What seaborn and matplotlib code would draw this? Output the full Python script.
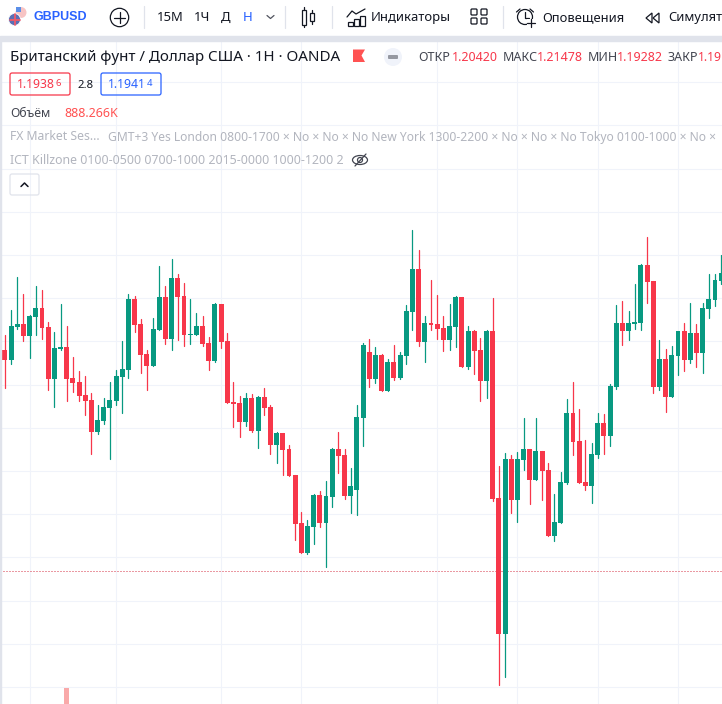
import matplotlib

matplotlib.use("Agg")
import matplotlib.pyplot as plt
import numpy as np
import pandas as pd
import seaborn as sns
from matplotlib.patches import Circle, Ellipse, FancyBboxPatch, Polygon, Rectangle

# prices in 1e-5 units
opens = [121200, 121142, 121333, 121350, 121281, 121391, 121443, 121333, 121032, 121205,
         121217, 121038, 121015, 120939, 120910, 120725, 120789, 120864, 120905, 121043,
         121084, 121495, 121350, 121177, 121107, 121315, 121506, 121263, 121616, 121512,
         121287, 121287, 121340, 121241, 121137, 121467, 121253, 120900, 120894, 120784,
         120923, 120732, 120929, 120871, 120651, 120720, 120628, 120477, 120200, 120026,
         120176, 120362, 120200, 120350, 120628, 120593, 120356, 120390, 120806, 121188,
         121032, 121171, 120962, 121130, 121038, 121165, 121420, 121668, 121246, 121356,
         121350, 121327, 121258, 121333, 121506, 121101, 121310, 121200, 121020, 121310,
         120344, 119557, 120569, 120332, 120564, 120627, 120448, 120616, 120506, 120124,
         120199, 120430, 120835, 120673, 120436, 120413, 120592, 120777, 120702, 120986,
         121356, 121310, 121350, 121356, 121692, 121599, 120986, 121148, 120928, 121165,
         121310, 121142, 121298, 121182, 121437, 121489, 121599]
closes = [121142, 121339, 121350, 121281, 121396, 121443, 121327, 121032, 121211, 121217,
          121032, 121009, 120933, 120905, 120725, 120795, 120870, 120910, 121049, 121090,
          121495, 121344, 121171, 121107, 121321, 121506, 121263, 121616, 121506, 121287,
          121292, 121340, 121235, 121137, 121467, 121247, 120894, 120888, 120784, 120923,
          120732, 120929, 120865, 120651, 120720, 120622, 120471, 120194, 120026, 120182,
          120362, 120200, 120356, 120628, 120587, 120356, 120414, 120813, 121229, 121032,
          121171, 120962, 121130, 121038, 121171, 121425, 121668, 121246, 121356, 121344,
          121321, 121258, 121339, 121506, 121101, 121310, 121194, 121020, 121310, 120338,
          119557, 120569, 120332, 120569, 120627, 120448, 120616, 120500, 120124, 120205,
          120436, 120835, 120667, 120430, 120413, 120598, 120777, 120702, 120991, 121356,
          121310, 121356, 121362, 121692, 121593, 120986, 121148, 120928, 121171, 121310,
          121142, 121298, 121182, 121443, 121495, 121605, 121645]
highs = [121286, 121431, 121622, 121524, 121402, 121570, 121547, 121362, 121304, 121466,
         121339, 121159, 121078, 121049, 120951, 120881, 120922, 121014, 121084, 121252,
         121524, 121512, 121379, 121200, 121385, 121686, 121570, 121726, 121640, 121587,
         121495, 121415, 121397, 121276, 121473, 121467, 121299, 121015, 120934, 120952,
         120946, 120934, 120981, 120882, 120726, 120720, 120651, 120477, 120263, 120217,
         120367, 120385, 120443, 120633, 120726, 120628, 120518, 120882, 121240, 121263,
         121217, 121177, 121148, 121229, 121188, 121460, 121894, 121778, 121396, 121605,
         121518, 121396, 121466, 121512, 121506, 121339, 121315, 121269, 121315, 121501,
         120529, 120604, 120592, 120610, 120806, 120627, 120806, 120616, 120546, 120367,
         120494, 120916, 121014, 120858, 120679, 120662, 120835, 120829, 121003, 121460,
         121483, 121425, 121582, 121697, 121854, 121599, 121258, 121205, 121223, 121310,
         121356, 121472, 121350, 121472, 121640, 121640, 121749]
lows = [120980, 121119, 121321, 121252, 121153, 121286, 121263, 120968, 120870, 121200,
        120905, 120957, 120905, 120824, 120598, 120714, 120771, 120569, 120881, 120835,
        121038, 121304, 121067, 120968, 121107, 121315, 121234, 121200, 121258, 121223,
        121234, 121287, 121224, 121085, 121131, 121212, 120894, 120755, 120697, 120761,
        120726, 120634, 120825, 120599, 120547, 120477, 120471, 120101, 120026, 120020,
        120078, 120176, 119945, 120292, 120489, 120338, 120257, 120246, 120644, 120986,
        121009, 120962, 120962, 121026, 121032, 121119, 121315, 121223, 121130, 121315,
        121263, 121194, 121200, 121217, 121101, 121090, 121061, 120905, 120922, 120326,
        119261, 119308, 120257, 120205, 120506, 120309, 120448, 120332, 120124, 120095,
        120199, 120425, 120592, 120430, 120390, 120315, 120575, 120598, 120644, 120974,
        121229, 121258, 121321, 121315, 121472, 120951, 120968, 120841, 120928, 121055,
        121078, 121124, 121101, 121067, 121385, 121454, 121582]

volume_bars = [10]
volume_values = [888266]
last_price = 119921
grid_candles = [4, 18, 35, 48, 70, 83, 96, 109]
price_ticks = [119250 + 250 * k for k in range(15)]

RED = "#f7374a"
GREEN = "#089981"
GRID = "#f0f3fa"
BAND = "#e0e3eb"
INK = "#131722"
MUTED = "#b2b5be"
BLUE = "#2962ff"
FONT = ["Noto Sans", "DejaVu Sans"]


def build_frames():
    df = pd.DataFrame({"i": range(len(opens)), "open": opens, "close": closes, "high": highs, "low": lows})
    df[["open", "close", "high", "low"]] = df[["open", "close", "high", "low"]] / 1e5
    df["up"] = df["close"] >= df["open"]
    df["body"] = (df["close"] - df["open"]).abs()
    df["bottom"] = df[["open", "close"]].min(axis=1)
    wicks = df.melt(id_vars=["i", "up"], value_vars=["high", "low"], value_name="price")
    return df, wicks


def plot_candles(ax, df, wicks):
    ax.axhline(last_price / 1e5, color="#d63447", linewidth=0.72, linestyle=(0, (1, 2)), zorder=1)
    for up, color in ((True, GREEN), (False, RED)):
        sub = wicks[wicks["up"] == up]
        sns.lineplot(data=sub, x="i", y="price", units="i", estimator=None, color=color,
                     linewidth=0.9, ax=ax, legend=False, zorder=3)
        bars = df[df["up"] == up]
        sns.barplot(data=bars, x="i", y="body", bottom=bars["bottom"].to_numpy(), native_scale=True,
                    width=0.8, color=color, saturation=1, errorbar=None, linewidth=0, ax=ax, zorder=4)


def plot_volume(ax):
    vol_ax = ax.twinx()
    sns.barplot(x=volume_bars, y=volume_values, native_scale=True, width=0.8, color="#f9a9a9",
                saturation=1, errorbar=None, linewidth=0, ax=vol_ax, zorder=2)
    vol_ax.set_ylim(0, volume_values[0] * 704 / 16)
    vol_ax.axis("off")
    return vol_ax


def label(ui, x, y, text, size=9.0, color=INK, weight="normal", family=None):
    ui.text(x, y + 1, text, fontsize=size, color=color, fontweight=weight, family=family or FONT,
            va="center", ha="left")


def rule(ui, xs, ys, color=INK, lw=0.9):
    ui.plot(xs, ys, color=color, linewidth=lw, solid_capstyle="round")


def draw_toolbar(ui):
    ui.add_patch(Rectangle((0, 0), 722, 36, color="white", zorder=0))
    ui.add_patch(Rectangle((0, 36), 722, 4.5, color=BAND, zorder=0))
    ui.add_patch(Rectangle((0, 40), 1, 664, color=BAND, zorder=0))
    for x in (143.5, 284.5, 331.5, 502.5):
        rule(ui, [x, x], [6, 28], BAND, 0.9)

    # symbol flags
    ui.add_patch(Circle((21, 12.5), 5.5, color="#f7c4c4", ec="none"))
    ui.add_patch(Rectangle((16, 7), 5, 5, color="#5b8fe8", ec="none"))
    ui.add_patch(Circle((14.5, 19.5), 6, color="#5a6fb5", ec="white", lw=0.6))
    rule(ui, [9.5, 20], [19.5, 19.5], "#ef5a6a", 1.3)
    rule(ui, [14.5, 14.5], [14, 25], "#ef5a6a", 1.3)
    label(ui, 33, 16, "GBPUSD", 9.0, BLUE, "bold", ["Liberation Sans"])

    ui.add_patch(Circle((119.5, 17.5), 9.2, fill=False, ec=INK, lw=0.9))
    rule(ui, [114, 125], [17.5, 17.5])
    rule(ui, [119.5, 119.5], [12, 23])

    label(ui, 157, 16.5, "15М", 9.4)
    label(ui, 194, 16.5, "1Ч", 9.4)
    label(ui, 221, 16.5, "Д", 9.4)
    label(ui, 243, 16.5, "Н", 9.4, BLUE)
    rule(ui, [267, 270.5, 274], [15.5, 18.5, 15.5], "#50535e")

    # bars icon
    for x, top, bot, w0, w1 in ((304, 10, 25, 7, 27), (312.3, 13, 21, 10, 24)):
        rule(ui, [x, x], [w0, top])
        rule(ui, [x, x], [bot, w1])
        ui.add_patch(Rectangle((x - 2, top), 4, bot - top, fill=False, ec=INK, lw=0.9))

    # indicators icon
    rule(ui, [347, 352, 356, 365], [17, 11, 14, 9])
    for x, top in ((348, 22), (354, 19), (360, 16)):
        ui.add_patch(Rectangle((x, top), 5, 26 - top, fill=False, ec=INK, lw=0.9))
    label(ui, 371, 16.5, "Индикаторы", 9.4)

    for x in (471, 481):
        for y in (9, 18):
            ui.add_patch(FancyBboxPatch((x + 1, y + 1), 4, 4, boxstyle="round,pad=1", fill=False, ec=INK, lw=0.9))

    ui.add_patch(Circle((525, 17), 7.5, fill=False, ec=INK, lw=0.9))
    rule(ui, [525, 525, 529], [12, 18, 18])
    rule(ui, [516.5, 520], [12, 9])
    rule(ui, [530, 533.5], [9, 12])
    ui.add_patch(Rectangle((527, 19), 8, 8, color="white", ec="none", zorder=2))
    rule(ui, [527, 535], [23, 23])
    rule(ui, [531, 531], [19, 27])
    label(ui, 542, 16.5, "Оповещения", 9.3)

    ui.add_patch(Polygon([(652, 13), (646, 18), (652, 23)], fill=False, ec=INK, lw=0.9))
    ui.add_patch(Polygon([(659, 13), (653, 18), (659, 23)], fill=False, ec=INK, lw=0.9))
    label(ui, 668, 16.5, "Симулят", 9.3)


def draw_legend(ui):
    label(ui, 10, 56.5, "Британский фунт / Доллар США · 1H · OANDA", 10.9)
    ui.add_patch(Polygon([(353, 49.5), (365, 49.5), (361.5, 55.5), (365, 62), (353, 62)], color="#ff5252", ec="none"))
    ui.add_patch(Circle((393, 57), 9, color=GRID, ec="none"))
    ui.add_patch(FancyBboxPatch((389, 56), 8, 2, boxstyle="round,pad=1", color="#9598a1", ec="none"))

    for x, name, price_x, price in ((418, "ОТКР", 452, "1.20420"), (503, "МАКС", 537, "1.21478"),
                                    (588, "МИН", 617, "1.19282"), (668, "ЗАКР", 698, "1.19")):
        label(ui, x, 56.5, name, 9.0, "#434651")
        label(ui, price_x, 56.5, price, 8.7 if price == "1.19" else 9.0, RED)

    for x, color, price, sup in ((10, RED, "1.1938", "6"), (101, BLUE, "1.1941", "4")):
        ui.add_patch(FancyBboxPatch((x + 2, 75), 56, 18, boxstyle="round,pad=2", fill=False, ec=color, lw=0.9))
        label(ui, x + 7, 84, price, 8.8, color)
        label(ui, x + 45.5, 82.5, sup, 6.8, color)
    label(ui, 78, 84, "2.8", 8.2)

    label(ui, 10, 112.5, "Объём", 8.8, "#434651")
    label(ui, 64, 112.5, "888.266K", 9.0, "#ff5252")

    label(ui, 10, 136, "FX Market Ses...", 8.8, MUTED)
    label(ui, 108, 136, "GMT+3 Yes London 0800-1700 × No × No × No New York 1300-2200 × No × No × No Tokyo 0100-1000 × No ×",
          8.72, MUTED)
    label(ui, 10, 159.5, "ICT Killzone 0100-0500 0700-1000 2015-0000 1000-1200 2", 8.9, MUTED)

    ui.add_patch(Ellipse((360, 160), 15, 9, fill=False, ec="#434651", lw=0.9))
    ui.add_patch(Circle((360, 160), 2.5, fill=False, ec="#434651", lw=0.9))
    rule(ui, [355, 366], [166, 154], "#434651")

    ui.add_patch(FancyBboxPatch((12, 176), 25, 17, boxstyle="round,pad=2", fill=False, ec=BAND, lw=0.9))
    rule(ui, [21, 24.5, 28], [186.5, 183, 186.5], INK, 1.1)


def main():
    sns.set_style("white")
    df, wicks = build_frames()

    fig = plt.figure(figsize=(7.22, 7.04), dpi=100, facecolor="white")
    ax = fig.add_axes([0, 0, 1, 1])
    plot_candles(ax, df, wicks)
    ax.set_yticks(np.array(price_ticks) / 1e5)
    ax.set_xticks(grid_candles)
    ax.grid(True, color=GRID, linewidth=0.75)
    ax.set_axisbelow(True)
    ax.tick_params(length=0, labelbottom=False, labelleft=False)
    ax.set_xlabel("")
    ax.set_ylabel("")
    sns.despine(ax=ax, left=True, bottom=True)
    vol_ax = plot_volume(ax)
    ax.set_xlim(-0.8, 116.13)
    vol_ax.set_xlim(-0.8, 116.13)
    ax.set_ylim(1.19152, 1.23226)

    ui = fig.add_axes([0, 0, 1, 1], facecolor="none")
    ui.set_xlim(0, 722)
    ui.set_ylim(704, 0)
    ui.axis("off")
    draw_toolbar(ui)
    draw_legend(ui)

    fig.savefig("out.png", dpi=100)
    plt.close(fig)


if __name__ == "__main__":
    main()
